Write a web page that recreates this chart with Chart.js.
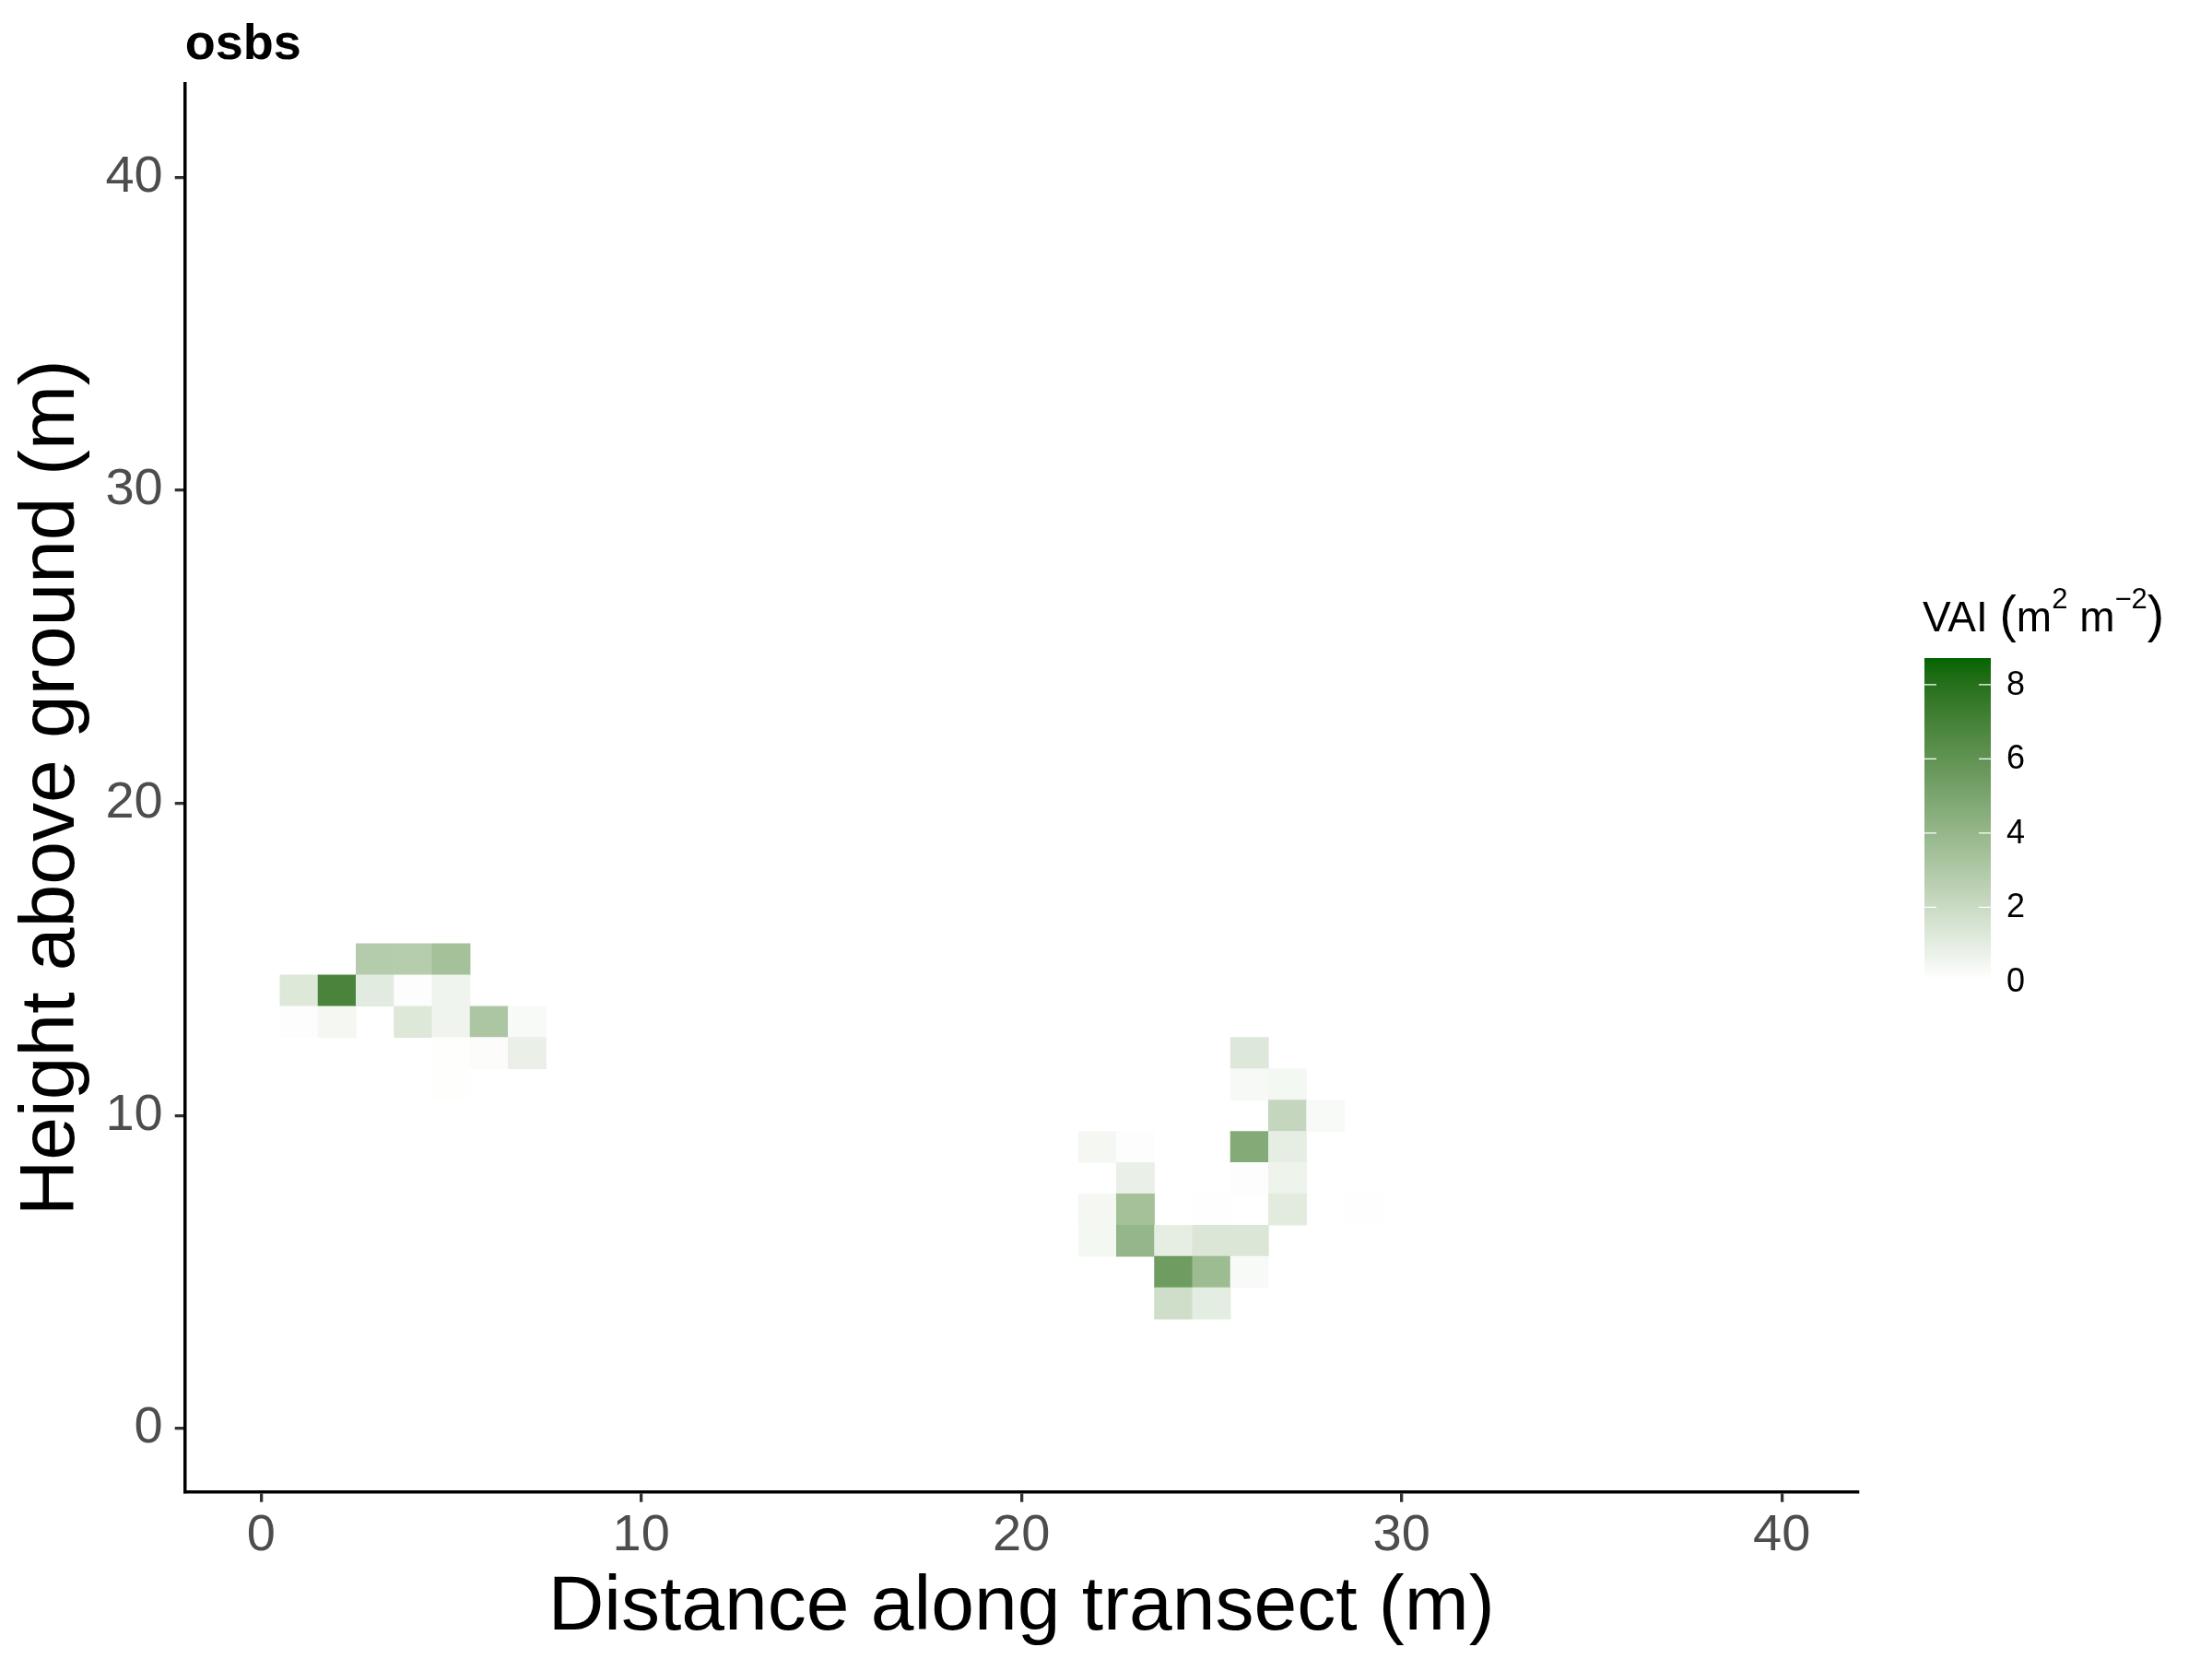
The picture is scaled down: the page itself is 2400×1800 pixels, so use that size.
<!DOCTYPE html>
<html lang="en">
<head>
  <meta charset="UTF-8" />
  <title>osbs VAI</title>
  <script src="https://cdn.jsdelivr.net/npm/chart.js"></script>
  <style>
    html, body { margin: 0; padding: 0; background: #fff; }
    canvas { display: block; }
  </style>
</head>
<body>
  <canvas id="vaiChart" width="2400" height="1800"></canvas>

  <script>
    // cells: distance along transect (m), height (m), VAI value
    const cellX = [3, 4, 5,   1, 2, 3, 4, 5,   1, 2, 4, 5, 6, 7,   5, 6, 7,   5,
                   26,   26, 27,   27, 28,   22, 23, 26, 27,   23, 26, 27,
                   22, 23, 25, 27, 29,   22, 23, 24, 25, 26,   24, 25, 26,   24, 25];
    const cellY = [15, 15, 15,   14, 14, 14, 14, 14,   13, 13, 13, 13, 13, 13,   12, 12, 12,   11,
                   12,   11, 11,   10, 10,   9, 9, 9, 9,   8, 8, 8,
                   7, 7, 7, 7, 7,   6, 6, 6, 6, 6,   5, 5, 5,   4, 4];
    const cellVAI = [2.81, 2.78, 3.42,   1.27, 6.85, 1.09, 0.13, 0.6,   0.13, 0.44, 1.27, 0.6, 3.12, 0.28,   0.08, 0.15, 0.82,   0.08,
                     1.25,   0.36, 0.43,   2.24, 0.28,   0.44, 0.13, 4.69, 0.94,   0.82, 0.13, 0.64,
                     0.44, 3.42, 0.1, 1.1, 0.1,   0.43, 4.01, 0.94, 1.37, 1.37,   5.49, 3.71, 0.28,   1.81, 1.02];

    const xTicks = [0, 10, 20, 30, 40];
    const yTicks = [0, 10, 20, 30, 40];
    const vaiTicks = [0, 2, 4, 6, 8];
    const vaiLimits = [0.03, 8.72];

    // white -> darkgreen, interpolated in CIELAB like ggplot's gradient
    function toLin(c) { c /= 255; return c <= 0.04045 ? c / 12.92 : Math.pow((c + 0.055) / 1.055, 2.4); }
    function fromLin(c) {
      const v = c <= 0.0031308 ? 12.92 * c : 1.055 * Math.pow(c, 1 / 2.4) - 0.055;
      return Math.round(Math.max(0, Math.min(1, v)) * 255);
    }
    function rgbToLab(r, g, b) {
      const R = toLin(r), G = toLin(g), B = toLin(b);
      const X = (0.4124 * R + 0.3576 * G + 0.1805 * B) / 0.95047;
      const Y = 0.2126 * R + 0.7152 * G + 0.0722 * B;
      const Z = (0.0193 * R + 0.1192 * G + 0.9505 * B) / 1.08883;
      const f = t => t > 0.008856 ? Math.cbrt(t) : 7.787 * t + 16 / 116;
      const fx = f(X), fy = f(Y), fz = f(Z);
      return [116 * fy - 16, 500 * (fx - fy), 200 * (fy - fz)];
    }
    function labToRgb(L, a, b) {
      const fy = (L + 16) / 116, fx = fy + a / 500, fz = fy - b / 200;
      const inv = f => (f * f * f > 0.008856 ? f * f * f : (f - 16 / 116) / 7.787);
      const X = 0.95047 * inv(fx), Y = inv(fy), Z = 1.08883 * inv(fz);
      const R = 3.2406 * X - 1.5372 * Y - 0.4986 * Z;
      const G = -0.9689 * X + 1.8758 * Y + 0.0415 * Z;
      const B = 0.0557 * X - 0.2040 * Y + 1.0570 * Z;
      return `rgb(${fromLin(R)}, ${fromLin(G)}, ${fromLin(B)})`;
    }
    const labLow = rgbToLab(255, 255, 255);
    const labHigh = rgbToLab(0, 100, 0);
    function vaiColor(v) {
      let t = (v - vaiLimits[0]) / (vaiLimits[1] - vaiLimits[0]);
      t = Math.max(0, Math.min(1, t));
      return labToRgb(
        labLow[0] + (labHigh[0] - labLow[0]) * t,
        labLow[1] + (labHigh[1] - labLow[1]) * t,
        labLow[2] + (labHigh[2] - labLow[2]) * t
      );
    }

    const cells = cellX.map((x, i) => ({ x: x, y: [cellY[i] - 0.5, cellY[i] + 0.5] }));
    const cellColors = cellVAI.map(v => vaiColor(v));

    // colour bar legend on the right
    const colorBarLegend = {
      id: "colorBarLegend",
      afterDraw(chart) {
        const ctx = chart.ctx;
        const left = 2088, right = 2160, top = 714, bottom = 1063.3;
        const valToY = v => 1064.8 - (v - 0) * 40.25;
        ctx.save();
        for (let y = Math.floor(top); y < bottom; y++) {
          const v = (1064.8 - (y + 0.5)) / 40.25;
          ctx.fillStyle = vaiColor(v);
          ctx.fillRect(left, y, right - left, 1);
        }
        ctx.strokeStyle = "#ffffff";
        ctx.lineWidth = 1.2;
        ctx.fillStyle = "#000000";
        ctx.font = "36px 'Liberation Sans', Arial, sans-serif";
        ctx.textBaseline = "middle";
        ctx.textAlign = "left";
        vaiTicks.forEach(v => {
          const y = valToY(v);
          if (y > top && y < bottom) {
            ctx.beginPath();
            ctx.moveTo(left, y); ctx.lineTo(left + 13, y);
            ctx.moveTo(right - 13, y); ctx.lineTo(right, y);
            ctx.stroke();
          }
          ctx.fillText(String(v), 2177, y + 1);
        });

        // title: VAI (m^2 m^-2)
        const parts = [
          { t: "VAI ", size: 46, rise: 0 },
          { t: "(", size: 55, rise: 0 },
          { t: "m", size: 46, rise: 0 },
          { t: "2", size: 31, rise: 25 },
          { t: " m", size: 46, rise: 0 },
          { t: "\u22122", size: 31, rise: 25 },
          { t: ")", size: 55, rise: 0 }
        ];
        let x = 2086;
        const base = 685;
        ctx.textBaseline = "alphabetic";
        parts.forEach(p => {
          ctx.font = `${p.size}px 'Liberation Sans', Arial, sans-serif`;
          ctx.fillText(p.t, x, base - p.rise);
          x += ctx.measureText(p.t).width;
        });
        ctx.restore();
      }
    };

    const tickFont = { family: "'Liberation Sans', Arial, sans-serif", size: 56 };
    const titleFont = { family: "'Liberation Sans', Arial, sans-serif", size: 84 };

    new Chart(document.getElementById("vaiChart").getContext("2d"), {
      type: "bar",
      data: {
        datasets: [{
          label: "VAI",
          data: cells,
          backgroundColor: cellColors,
          borderWidth: 0,
          borderSkipped: false,
          categoryPercentage: 1,
          barPercentage: 1
        }]
      },
      options: {
        responsive: false,
        devicePixelRatio: 1,
        animation: false,
        layout: { padding: { left: 0, top: 0, right: 384.3, bottom: 0 } },
        plugins: {
          legend: { display: false },
          tooltip: { enabled: false },
          title: {
            display: true,
            text: "osbs",
            align: "start",
            fullSize: false,
            color: "#000000",
            font: { family: "'Liberation Sans', Arial, sans-serif", size: 54, weight: "bold" },
            padding: { top: 17, bottom: 9 }
          }
        },
        scales: {
          x: {
            type: "linear",
            min: -2,
            max: 42,
            offset: false,
            afterBuildTicks: scale => { scale.ticks = xTicks.map(v => ({ value: v })); },
            afterFit: scale => { scale.height = 181.3; },
            grid: { offset: false, drawOnChartArea: false, drawTicks: true, tickLength: 11, color: "#333333", lineWidth: 3.3 },
            border: { display: true, color: "#000000", width: 3.5 },
            ticks: { font: tickFont, color: "#4d4d4d", padding: 3.5, maxRotation: 0 },
            title: { display: true, text: "Distance along transect (m)", font: titleFont, color: "#000000", padding: { top: 0, bottom: 5 } }
          },
          y: {
            type: "linear",
            min: -2.03,
            max: 43,
            afterBuildTicks: scale => { scale.ticks = yTicks.map(v => ({ value: v })); },
            afterFit: scale => { scale.width = 200.7; },
            grid: { drawOnChartArea: false, drawTicks: true, tickLength: 11, color: "#333333", lineWidth: 3.3 },
            border: { display: true, color: "#000000", width: 3.5 },
            ticks: { font: tickFont, color: "#4d4d4d", padding: 13 },
            title: { display: true, text: "Height above ground (m)", font: titleFont, color: "#000000", padding: { top: 6, bottom: 0 } }
          }
        }
      },
      plugins: [colorBarLegend]
    });
  </script>
</body>
</html>
